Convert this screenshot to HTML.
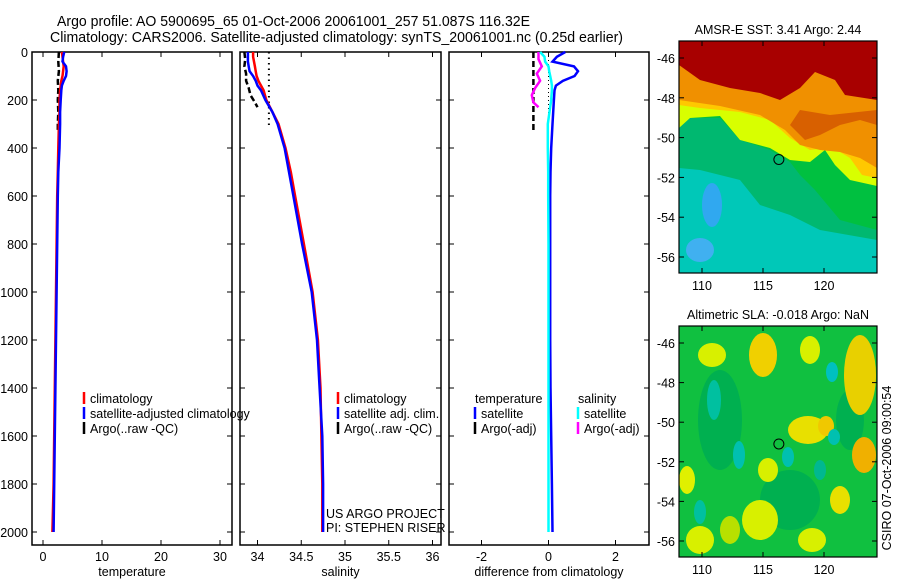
<!DOCTYPE html>
<html><head><meta charset="utf-8"><style>
html,body{margin:0;padding:0;background:#fff;}
svg{display:block;font-family:"Liberation Sans",sans-serif;}
</style></head><body>
<svg id="fig" width="900" height="580" viewBox="0 0 900 580">
<text x="57" y="26" font-size="14.5" textLength="473" lengthAdjust="spacingAndGlyphs">Argo profile: AO 5900695_65 01-Oct-2006 20061001_257 51.087S 116.32E</text>
<text x="50" y="42" font-size="14.5" textLength="573" lengthAdjust="spacingAndGlyphs">Climatology: CARS2006. Satellite-adjusted climatology: synTS_20061001.nc (0.25d earlier)</text>
<g id="maps"></g>
<g id="panels"></g>
</svg>
<script>
// ---- data ----
const depthTicks=[0,200,400,600,800,1000,1200,1400,1600,1800,2000];
const tempTicks=[0,10,20,30];
const salTicks=[34,34.5,35,35.5,36];
const diffTicks=[-2,0,2];
const depths=[0,20,40,60,80,100,120,140,160,200,250,300,400,500,600,800,1000,1200,1400,1600,1800,2000];
const tempClim=[3.2,3.3,3.4,3.5,3.4,3.3,3.1,3.0,2.9,2.8,2.8,2.7,2.6,2.5,2.4,2.3,2.2,2.1,2.0,1.9,1.8,1.6];
const tempSat=[3.6,3.4,3.3,3.9,4.0,3.9,3.5,3.2,3.1,3.0,2.9,2.9,2.8,2.6,2.5,2.4,2.3,2.2,2.1,2.0,1.9,1.8];
const argoDepths=[0,40,80,120,160,200,250,300,330];
const tempArgo=[2.7,2.6,2.7,2.5,2.6,2.5,2.6,2.5,2.5];
const salClim=[33.95,33.95,33.96,33.97,33.98,33.99,34.01,34.04,34.07,34.1,34.17,34.24,34.32,34.38,34.43,34.53,34.63,34.69,34.72,34.73,34.74,34.74];
const salSat=[33.89,33.89,33.89,33.9,33.91,33.95,33.98,34.0,34.04,34.09,34.17,34.23,34.31,34.36,34.41,34.51,34.62,34.68,34.71,34.74,34.75,34.75];
const salArgoDepths=[0,30,60,90,120,150,180,210,230];
const salArgo=[33.85,33.86,33.85,33.87,33.87,33.9,33.92,33.97,34.0];
const salDotDepths=[0,320];
const salDot=[34.13,34.13];
const diffTempSat=[0.5,0.25,0.12,0.76,0.88,0.78,0.43,0.22,0.18,0.16,0.14,0.12,0.08,0.06,0.05,0.05,0.05,0.05,0.06,0.08,0.1,0.12];
const diffSalSat=[-0.25,-0.12,-0.1,0.0,0.02,0.05,0.08,0.1,0.1,0.08,0.03,-0.02,-0.02,-0.01,-0.01,0.0,0.0,0.0,0.0,0.0,0.0,0.0];
const diffTempArgo=[-0.45,-0.45,-0.45,-0.45,-0.45,-0.45,-0.45,-0.45,-0.45];
const diffSalArgo=[-0.3,-0.3,-0.2,-0.35,-0.25,-0.4,-0.5,-0.45,-0.3];
const lonTicks=[110,115,120];
const latTicks=[-46,-48,-50,-52,-54,-56];
const floatLon=116.3, floatLat=-51.1;

const NS="http://www.w3.org/2000/svg";
function el(tag,attrs,parent,txt){const e=document.createElementNS(NS,tag);for(const k in attrs)e.setAttribute(k,attrs[k]);if(txt!==undefined)e.textContent=txt;parent.appendChild(e);return e;}
const yTop=52, yScale=0.24, panelBottom=545;
const yD=d=>yTop+d*yScale;
const panels=document.getElementById('panels');
function pathD(xs,ds,sx){return xs.map((v,i)=>(i?'L':'M')+sx(v).toFixed(1)+','+yD(ds[i]).toFixed(1)).join(' ');}

function makePanel(name,x0,x1,sx,ticks,label,showY){
  const g=el('g',{},panels);
  
  
  const r=el('rect',{x:x0,y:yTop,width:x1-x0,height:panelBottom-yTop,fill:'none',stroke:'#000','stroke-width':1.5},g);
  
  
  depthTicks.forEach(d=>{
    el('line',{x1:x0,x2:x0+5,y1:yD(d),y2:yD(d),stroke:'#000'},g);
    el('line',{x1:x1-5,x2:x1,y1:yD(d),y2:yD(d),stroke:'#000'},g);
    if(showY){const t=el('text',{x:x0-4,y:yD(d)+5,'font-size':12.5,'text-anchor':'end'},g,String(d));
      
      }
  });
  ticks.forEach(v=>{
    const x=sx(v);
    el('line',{x1:x,x2:x,y1:yTop,y2:yTop+5,stroke:'#000'},g);
    el('line',{x1:x,x2:x,y1:panelBottom-5,y2:panelBottom,stroke:'#000'},g);
    const t=el('text',{x:x,y:561,'font-size':12.5,'text-anchor':'middle'},g,String(v));
    
    
  });
  const l=el('text',{x:(x0+x1)/2,y:576,'font-size':12.5,'text-anchor':'middle'},g,label);
  
  
  return g;
}
function line(g,name,xs,ds,sx,color,w,dash){
  const p=el('path',{d:pathD(xs,ds,sx),fill:'none',stroke:color,'stroke-width':w,'stroke-dasharray':dash||'none'},g);
  
  
}
function legend(g,x,y,items){
  items.forEach((it,i)=>{
    if(it.c)el('line',{x1:x,x2:x,y1:y+i*15-11,y2:y+i*15+1,stroke:it.c,'stroke-width':2.5},g);
    const t=el('text',{x:x+(it.c?6:0),y:y+i*15,'font-size':12.5},g,it.t);
    
    
  });
}
// Temperature panel
const sxT=v=>43+5.9*v;
const g1=makePanel('temperature',32,232,sxT,tempTicks,'temperature',true);
line(g1,'temp-argo-line',tempArgo,argoDepths,sxT,'#000',2.5,'6,3');
line(g1,'temp-climatology-line',tempClim,depths,sxT,'#f00',2.5);
line(g1,'temp-satellite-line',tempSat,depths,sxT,'#00f',2.5);
legend(g1,84,403,[{c:'#f00',t:'climatology'},{c:'#00f',t:'satellite-adjusted climatology'},{c:'#000',t:'Argo(..raw -QC)'}]);
// Salinity panel
const sxS=v=>257.5+87.5*(v-34);
const g2=makePanel('salinity',240,441,sxS,salTicks,'salinity',false);
line(g2,'sal-argo-dotted-line',salDot,salDotDepths,sxS,'#000',2,'1.5,4');
line(g2,'sal-argo-line',salArgo,salArgoDepths,sxS,'#000',2.5,'6,3');
line(g2,'sal-climatology-line',salClim,depths,sxS,'#f00',2.5);
line(g2,'sal-satellite-line',salSat,depths,sxS,'#00f',2.5);
legend(g2,338,403,[{c:'#f00',t:'climatology'},{c:'#00f',t:'satellite adj. clim.'},{c:'#000',t:'Argo(..raw -QC)'}]);
const u1=el('text',{x:326,y:518,'font-size':12.5},g2,'US ARGO PROJECT');
const u2=el('text',{x:326,y:532,'font-size':12.5},g2,'PI: STEPHEN RISER');
// Difference panel
const sxD=v=>548.5+33.5*v;
const g3=makePanel('difference',449,649,sxD,diffTicks,'difference from climatology',false);
line(g3,'diff-zero-dotted',[0,0],[0,2000],sxD,'#000',1,'1,3');
line(g3,'diff-temp-argo-line',diffTempArgo,argoDepths,sxD,'#000',2.5,'6,3');
line(g3,'diff-sal-argo-line',diffSalArgo,salArgoDepths,sxD,'#f0f',2.5);
line(g3,'diff-temp-satellite-line',diffTempSat,depths,sxD,'#00f',2.5);
line(g3,'diff-sal-satellite-line',diffSalSat,depths,sxD,'#0ff',2.5);
legend(g3,475,403,[{t:'temperature'},{c:'#00f',t:'satellite'},{c:'#000',t:'Argo(-adj)'}]);
legend(g3,578,403,[{t:'salinity'},{c:'#0ff',t:'satellite'},{c:'#f0f',t:'Argo(-adj)'}]);

// ---- maps ----
const maps=document.getElementById('maps');
const mx=v=>702+(v-110)*12.2;
function makeMap(name,top,bottom,title,shapes){
  const g=el('g',{},maps);
  
  
  const lat0=top+17, dLat=(bottom-top-33)/10;
  const my=v=>lat0+(-46-v)*dLat;
  const cid='clip-'+name;
  const cp=el('clipPath',{id:cid},g);el('rect',{x:679,y:top,width:198,height:bottom-top},cp);
  const inner=el('g',{'clip-path':'url(#'+cid+')'},g);
  shapes(inner,top);
  const fr=el('rect',{x:679,y:top,width:198,height:bottom-top,fill:'none',stroke:'#000','stroke-width':1.2},g);
  
  latTicks.forEach(v=>{const y=my(v);
    el('line',{x1:679,x2:684,y1:y,y2:y,stroke:'#000'},g);el('line',{x1:872,x2:877,y1:y,y2:y,stroke:'#000'},g);
    const t=el('text',{x:675,y:y+5,'font-size':12.5,'text-anchor':'end'},g,String(v));
    });
  lonTicks.forEach(v=>{const x=mx(v);
    el('line',{x1:x,x2:x,y1:top,y2:top+5,stroke:'#000'},g);el('line',{x1:x,x2:x,y1:bottom-5,y2:bottom,stroke:'#000'},g);
    const t=el('text',{x:x,y:bottom+17,'font-size':12.5,'text-anchor':'middle'},g,String(v));
    });
  const tt=el('text',{x:778,y:top-7,'font-size':12.5,'text-anchor':'middle'},g,title);
  
  const c=el('circle',{cx:mx(floatLon),cy:my(floatLat),r:5,fill:'none',stroke:'#000','stroke-width':1},g);
  
}
function poly(g,pts,fill){el('polygon',{points:pts,fill:fill},g);}
makeMap('sst-map',41,273,'AMSR-E SST: 3.41 Argo: 2.44',(g)=>{
  poly(g,'679,41 877,41 877,273 679,273','#00c8b8');
  poly(g,'679,41 877,41 877,240 820,230 790,215 760,205 740,180 700,170 679,168','#00b870');
  poly(g,'679,41 877,41 877,230 840,220 815,190 800,175 790,162 770,150 740,140 720,118 690,118 679,128','#00c040');
  poly(g,'679,41 877,41 877,186 850,180 835,165 825,150 810,162 790,160 770,148 740,140 720,116 690,118 679,128','#d8ff00');
  poly(g,'679,41 877,41 877,178 862,175 850,158 840,152 825,148 810,150 790,138 770,120 740,112 700,108 679,105','#ffc800');
  poly(g,'679,41 877,41 877,168 860,158 840,152 820,150 800,145 785,130 760,115 720,106 679,100','#f09000');
  poly(g,'877,125 860,120 840,125 820,135 805,140 790,125 800,110 830,115 877,110','#d86000');
  poly(g,'679,41 877,41 877,100 845,95 835,80 815,72 800,88 780,100 760,93 730,88 700,80 679,65','#a80000');
  el('ellipse',{cx:712,cy:205,rx:10,ry:22,fill:'#30a8f0'},g);
  el('ellipse',{cx:700,cy:250,rx:14,ry:12,fill:'#40b0f0'},g);
});
makeMap('sla-map',326,557,'Altimetric SLA: -0.018 Argo: NaN',(g)=>{
  el('rect',{x:679,y:326,width:198,height:231,fill:'#10c040'},g);
  const dark=[[720,420,22,50,'#00b050'],[790,500,30,30,'#00b050'],[850,420,14,30,'#00b050']];
  dark.forEach(b=>el('ellipse',{cx:b[0],cy:b[1],rx:b[2],ry:b[3],fill:b[4]},g));
  const blobs=[[712,355,14,12,'#d8f000'],[763,355,14,22,'#f0d000'],[810,350,10,14,'#d8f000'],[860,375,16,40,'#e8d000'],[808,430,20,14,'#e8e000'],[826,426,8,10,'#f0c800'],[864,455,12,18,'#f0b000'],[768,470,10,12,'#d8f000'],[687,480,8,14,'#e0f000'],[840,500,10,14,'#e8e000'],[760,520,18,20,'#d8f000'],[700,540,14,14,'#d8f000'],[812,540,14,12,'#d8f000'],[730,530,10,14,'#b8e000']];
  blobs.forEach(b=>el('ellipse',{cx:b[0],cy:b[1],rx:b[2],ry:b[3],fill:b[4]},g));
  const cy=[[714,400,7,20,'#00c0a0'],[739,455,6,14,'#00c0b0'],[788,457,6,10,'#00c0b0'],[832,372,6,10,'#00c0c0'],[834,437,6,8,'#00c0b0'],[700,512,6,12,'#00c0a0'],[820,470,6,10,'#00b890']];
  cy.forEach(b=>el('ellipse',{cx:b[0],cy:b[1],rx:b[2],ry:b[3],fill:b[4]},g));
});
const cs=el('text',{x:0,y:0,'font-size':12.5,'text-anchor':'middle',transform:'translate(891,468) rotate(-90)'},maps,'CSIRO 07-Oct-2006 09:00:54');


</script>
</body></html>
